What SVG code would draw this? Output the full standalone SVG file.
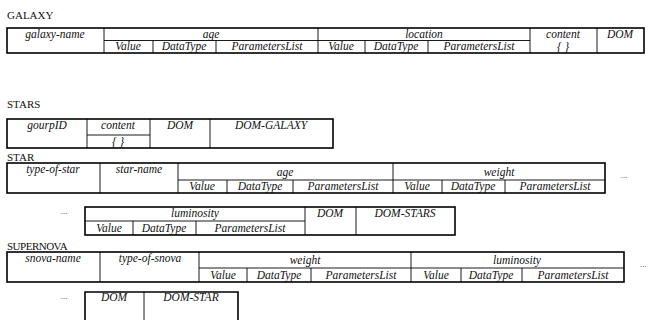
<svg xmlns="http://www.w3.org/2000/svg" width="649" height="320" viewBox="0 0 649 320">
<style>
.bg{fill:#fff}
.o{fill:none;stroke:#000;stroke-width:1.6}
.i{stroke:#000;stroke-width:0.9;fill:none}
text{font-family:'Liberation Serif','Times New Roman','DejaVu Serif',serif}
.t{font-style:italic;font-size:11.5px;fill:#111;text-anchor:middle}
.h{font-size:11px;fill:#111}
.d{font-size:9px;fill:#333;text-anchor:middle}
</style>
<rect class="bg" width="649" height="320"/>

<g id="galaxy">
<text class="h" x="7" y="19">GALAXY</text>
<rect class="o" x="7" y="28" width="637" height="25"/>
<g class="i">
<path d="M104 28V53M318 28V53M530 28V53M597 28V53"/>
<path d="M104 40.5H530"/>
<path d="M153 40.5V53M216 40.5V53M365 40.5V53M428 40.5V53"/>
</g>
<text class="t" x="55" y="38">galaxy-name</text>
<text class="t" x="211" y="38">age</text>
<text class="t" x="128" y="50">Value</text>
<text class="t" x="184" y="50">DataType</text>
<text class="t" x="267" y="50">ParametersList</text>
<text class="t" x="424" y="38">location</text>
<text class="t" x="341" y="50">Value</text>
<text class="t" x="396" y="50">DataType</text>
<text class="t" x="479" y="50">ParametersList</text>
<text class="t" x="563" y="38">content</text>
<text class="t" x="563" y="51" font-style="normal">{ }</text>
<text class="t" x="620" y="38">DOM</text>
</g>

<g id="stars">
<text class="h" x="7" y="108">STARS</text>
<rect class="o" x="7" y="119" width="326" height="29"/>
<g class="i">
<path d="M87 119V148M150 119V148M210 119V148"/>
<path d="M87 135H150"/>
</g>
<text class="t" x="47" y="129">gourpID</text>
<text class="t" x="118" y="129">content</text>
<text class="t" x="118" y="146" font-style="normal">{ }</text>
<text class="t" x="180" y="129">DOM</text>
<text class="t" x="271" y="129">DOM-GALAXY</text>
</g>

<g id="star">
<text class="h" x="7" y="161">STAR</text>
<rect class="o" x="7" y="163" width="598" height="30"/>
<g class="i">
<path d="M100 163V193M178 163V193M393 163V193"/>
<path d="M178 180H605"/>
<path d="M227 180V193M293 180V193M442 180V193M505 180V193"/>
</g>
<text class="t" x="53" y="173">type-of-star</text>
<text class="t" x="139" y="173">star-name</text>
<text class="t" x="285" y="176">age</text>
<text class="t" x="202" y="190">Value</text>
<text class="t" x="260" y="190">DataType</text>
<text class="t" x="343" y="190">ParametersList</text>
<text class="t" x="499" y="176">weight</text>
<text class="t" x="417" y="190">Value</text>
<text class="t" x="473" y="190">DataType</text>
<text class="t" x="555" y="190">ParametersList</text>
<text class="d" x="624" y="178">...</text>
<text class="d" x="64" y="214">...</text>
<rect class="o" x="85" y="207" width="370" height="28"/>
<g class="i">
<path d="M305 207V235M356 207V235"/>
<path d="M85 221H305"/>
<path d="M133 221V235M196 221V235"/>
</g>
<text class="t" x="195" y="217">luminosity</text>
<text class="t" x="109" y="232">Value</text>
<text class="t" x="164" y="232">DataType</text>
<text class="t" x="250" y="232">ParametersList</text>
<text class="t" x="330" y="217">DOM</text>
<text class="t" x="405" y="217">DOM-STARS</text>
</g>

<g id="supernova">
<text class="h" x="7" y="250" letter-spacing="-0.5">SUPERNOVA</text>
<rect class="o" x="7" y="252" width="617" height="30"/>
<g class="i">
<path d="M100 252V282M199 252V282M411 252V282"/>
<path d="M199 268H624"/>
<path d="M247 268V282M311 268V282M461 268V282M522 268V282"/>
</g>
<text class="t" x="53" y="262">snova-name</text>
<text class="t" x="150" y="262">type-of-snova</text>
<text class="t" x="305" y="264">weight</text>
<text class="t" x="223" y="279">Value</text>
<text class="t" x="279" y="279">DataType</text>
<text class="t" x="361" y="279">ParametersList</text>
<text class="t" x="517" y="264">luminosity</text>
<text class="t" x="436" y="279">Value</text>
<text class="t" x="491" y="279">DataType</text>
<text class="t" x="573" y="279">ParametersList</text>
<text class="d" x="643" y="267">...</text>
<text class="d" x="64" y="299">...</text>
<path class="o" d="M85 322V292H238V322"/>
<path class="i" d="M144 292V322"/>
<text class="t" x="114" y="301">DOM</text>
<text class="t" x="191" y="301">DOM-STAR</text>
</g>
</svg>
